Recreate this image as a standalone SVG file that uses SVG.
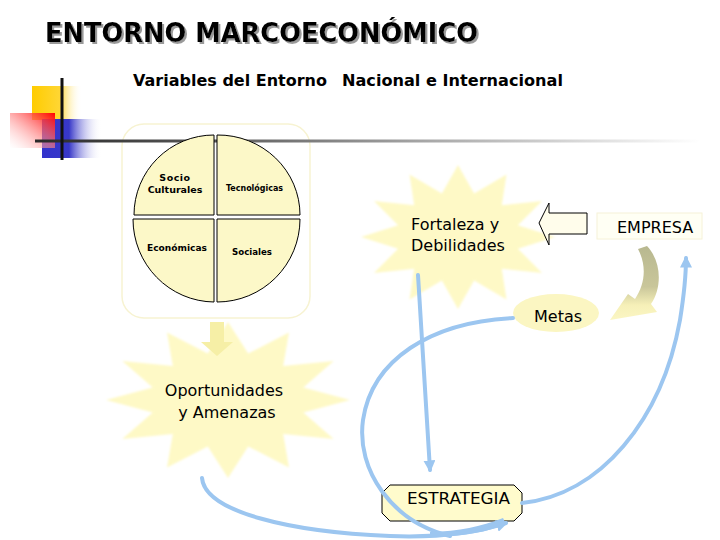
<svg xmlns="http://www.w3.org/2000/svg" width="720" height="540" viewBox="0 0 720 540">
<defs>
<style>
.t{font-family:"DejaVu Sans","Liberation Sans",sans-serif;fill:#000}
.pie{fill:#FCF8C8;stroke:#000;stroke-width:1}
.star{fill:#FEF9C6}
.blue{fill:none;stroke:#9CC6F0;stroke-width:4;stroke-linecap:round}
</style>
<linearGradient id="gy" x1="0" y1="0" x2="1" y2="0"><stop offset="0" stop-color="#FFCC00"/><stop offset="0.55" stop-color="#FFD633"/><stop offset="1" stop-color="#FFF" stop-opacity="0"/></linearGradient>
<linearGradient id="gb" x1="0" y1="0" x2="1" y2="0"><stop offset="0" stop-color="#3333CC"/><stop offset="0.45" stop-color="#3838C8"/><stop offset="1" stop-color="#FFF" stop-opacity="0"/></linearGradient>
<linearGradient id="gr" x1="1" y1="0" x2="0" y2="1"><stop offset="0" stop-color="#FF0000"/><stop offset="1" stop-color="#FFFFFF" stop-opacity="0.3"/></linearGradient>
<linearGradient id="gl" x1="35" y1="0" x2="700" y2="0" gradientUnits="userSpaceOnUse"><stop offset="0" stop-color="#2A2A2A"/><stop offset="0.25" stop-color="#555"/><stop offset="0.6" stop-color="#AAA"/><stop offset="1" stop-color="#FFF"/></linearGradient>
<linearGradient id="go" x1="0" y1="0" x2="0" y2="1"><stop offset="0" stop-color="#B8B890"/><stop offset="0.55" stop-color="#C9C69A"/><stop offset="0.8" stop-color="#F6F0B8"/><stop offset="1" stop-color="#FBF6C4"/></linearGradient>
<filter id="soft" x="-10%" y="-10%" width="120%" height="120%"><feGaussianBlur stdDeviation="1.2"/></filter>
<filter id="shadow" x="-5%" y="-20%" width="110%" height="150%"><feDropShadow dx="2" dy="2" stdDeviation="0.4" flood-color="#9A9A9A" flood-opacity="1"/></filter>
<marker id="ah" viewBox="0 0 10 10" refX="8" refY="5" markerWidth="3" markerHeight="3" orient="auto" markerUnits="strokeWidth"><path d="M0 0 L10 5 L0 10 Z" fill="#9CC6F0"/></marker>
</defs>
<rect width="720" height="540" fill="#FFF"/>

<g id="title">
<text class="t" x="45" y="42" font-size="26" font-weight="bold" textLength="433" lengthAdjust="spacingAndGlyphs" filter="url(#shadow)">ENTORNO MARCOECONÓMICO</text>
<text class="t" x="133" y="86" font-size="16.5" font-weight="bold" textLength="194" lengthAdjust="spacingAndGlyphs">Variables del Entorno</text>
<text class="t" x="342" y="86" font-size="16.5" font-weight="bold" textLength="221" lengthAdjust="spacingAndGlyphs">Nacional e Internacional</text>
</g>

<g id="decor">
<rect x="32" y="86" width="50" height="34" fill="url(#gy)"/>
<rect x="42" y="119" width="60" height="39" fill="url(#gb)"/>
<rect x="10" y="113" width="45" height="35" fill="url(#gr)"/>
<rect x="122" y="124" width="188" height="194" rx="22" fill="#FFF" stroke="#F7F3D2" stroke-width="1.5"/>
<line x1="35" y1="141" x2="700" y2="141" stroke="url(#gl)" stroke-width="3"/>
<line x1="62" y1="78" x2="62" y2="160" stroke="#111" stroke-width="3"/>
</g>

<g id="pie">
<path class="pie" d="M214 215 L134 215 A80 80 0 0 1 214 135 Z"/>
<path class="pie" d="M217 215 L217 135 A82 80 0 0 1 300 215 Z"/>
<path class="pie" d="M214 219 L214 302 A82 83 0 0 1 133 219 Z"/>
<path class="pie" d="M217 219 L300 219 A83 83 0 0 1 217 302 Z"/>
<text class="t" x="175" y="181" font-size="9.5" font-weight="bold" text-anchor="middle" letter-spacing="0.5">Socio</text>
<text class="t" x="175" y="193" font-size="9.5" font-weight="bold" text-anchor="middle">Culturales</text>
<text class="t" x="226" y="191" font-size="8" font-weight="bold" textLength="57" lengthAdjust="spacingAndGlyphs">Tecnológicas</text>
<text class="t" x="147" y="251" font-size="9.5" font-weight="bold" textLength="60" lengthAdjust="spacingAndGlyphs">Económicas</text>
<text class="t" x="232" y="255" font-size="9.5" font-weight="bold" textLength="40" lengthAdjust="spacingAndGlyphs">Sociales</text>
</g>

<g id="fortaleza">
<polygon class="star" filter="url(#soft)" points="555,237 517.9,248.7 542,273 501.8,268.8 506.5,299.4 474.1,280.5 458,309 441.9,280.5 409.5,299.4 414.2,268.8 374,273 398.1,248.7 361,237 398.1,225.3 374,201 414.2,205.2 409.5,174.6 441.9,193.5 458,165 474.1,193.5 506.5,174.6 501.8,205.2 542,201 517.9,225.3"/>
<text class="t" x="411" y="230" font-size="16">Fortaleza y</text>
<text class="t" x="411" y="251" font-size="16">Debilidades</text>
</g>

<g id="oportunidades">
<polygon class="star" filter="url(#soft)" points="350,400 303.3,412.4 333.7,439 283.2,433.9 289,467.5 248.2,446.4 228,478 207.8,446.4 167,467.5 172.8,433.9 122.3,439 152.7,412.4 106,400 152.7,387.6 122.3,361 172.8,366.1 167,332.5 207.8,353.6 228,322 248.2,353.6 289,332.5 283.2,366.1 333.7,361 303.3,387.6"/>
<polygon points="210,322 224,322 224,342 233,342 217,356 201,342 210,342" fill="#F6EFA6"/>
<text class="t" x="224" y="396" font-size="16" text-anchor="middle">Oportunidades</text>
<text class="t" x="227" y="418" font-size="16" text-anchor="middle">y Amenazas</text>
</g>

<g id="empresa">
<rect x="597" y="213" width="105" height="26" fill="#FFFFF4" stroke="#F6F2D8" stroke-width="1"/>
<text class="t" x="617" y="233" font-size="16">EMPRESA</text>
</g>

<g id="flecha-izq">
<polygon points="539,223 549,203 549,213 587,213 587,234 549,234 549,245" fill="#FFFDEB" stroke="#000" stroke-width="1"/>
</g>

<g id="metas">
<ellipse cx="556" cy="313" rx="43" ry="19" fill="#FBF6C2"/>
<text class="t" x="534" y="322" font-size="16">Metas</text>
</g>

<g id="estrategia">
<polygon points="390,485 514,485 522,493 522,513 514,521 390,521 382,513 382,493" fill="#FFFBCC" stroke="#000" stroke-width="1"/>
<text class="t" x="407" y="504" font-size="16" textLength="103" lengthAdjust="spacingAndGlyphs">ESTRATEGIA</text>
</g>

<g id="connectors">
<path d="M638 249 L647 246 C662 262 662 288 651 304 L657 312 L610 320 L628 294 L635 299 C645 284 647 266 638 249 Z" fill="url(#go)"/>
<path class="blue" d="M418 275 L430 470" marker-end="url(#ah)"/>
<path class="blue" d="M513 318 C430 322 372 360 363 420 C356 470 392 522 450 536"/>
<path class="blue" d="M202 478 C205 512 290 532 390 536 C440 538 478 532 506 523" marker-end="url(#ah)"/>
<path d="M430 536 C460 537 485 533 506 524 L503 518 C480 527 460 531 430 532 Z" fill="#9CC6F0"/>
<path class="blue" d="M522 503 C600 495 662 420 680 320 C684 295 686 275 686 258" marker-end="url(#ah)"/>
</g>
</svg>
